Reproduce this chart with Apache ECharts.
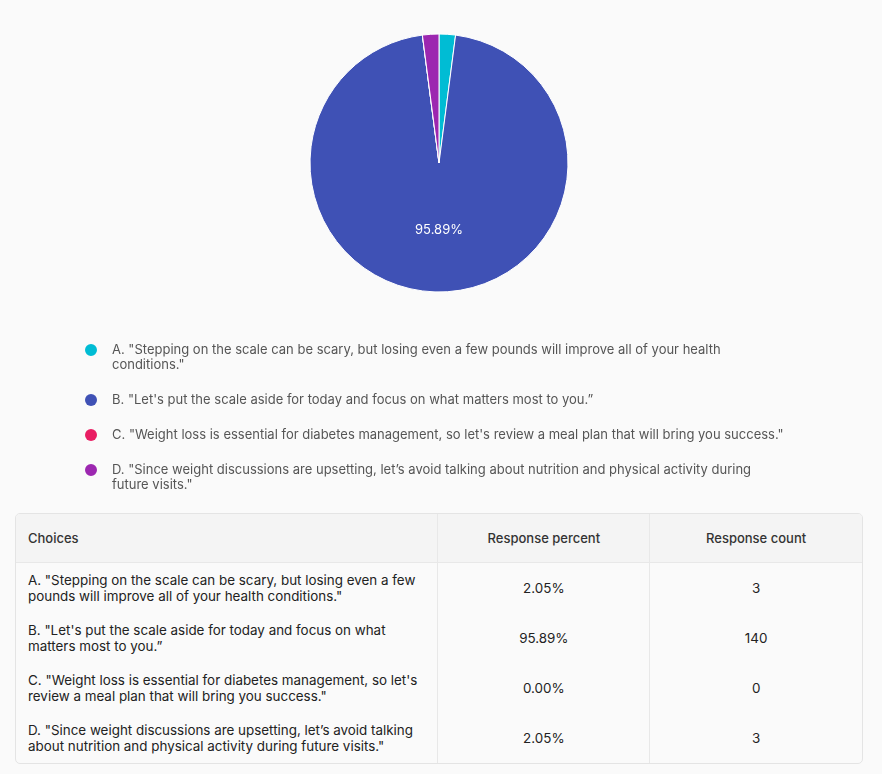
<!DOCTYPE html>
<html>
<head>
<meta charset="utf-8">
<script src="https://cdn.jsdelivr.net/npm/echarts@6/dist/echarts.min.js"></script>
<style>
  html, body { margin: 0; padding: 0; background: #fafafa; }
  #chart { width: 882px; height: 505px; }
  table {
    position: absolute; left: 15px; top: 513px; width: 848px;
    border-collapse: separate; border-spacing: 0;
    border: 1px solid #e4e4e4; border-radius: 5px; overflow: hidden;
    font-family: Inter, "Noto Sans", sans-serif; color: #222;
  }
  th, td { border-right: 1px solid #e8e8e8; padding: 0 12px; }
  th:last-child, td:last-child { border-right: none; }
  th { background: #f4f4f4; height: 48px; font-size: 13px; font-weight: 500; color: #333;
       border-bottom: 1px solid #e8e8e8; text-align: center; }
  th:first-child { text-align: left; }
  td { height: 50px; font-size: 13.4px; line-height: 16px; text-align: center; }
  td:first-child { text-align: left; padding-right: 4px; }
</style>
</head>
<body>
<div id="chart"></div>
<table id="tbl">
  <colgroup><col style="width:423px"><col style="width:212px"><col style="width:212px"></colgroup>
  <thead><tr><th>Choices</th><th>Response percent</th><th>Response count</th></tr></thead>
  <tbody></tbody>
</table>
<script>
// 选项文本与计数
var choices = [
  'A. "Stepping on the scale can be scary, but losing even a few pounds will improve all of your health conditions."',
  'B. "Let\'s put the scale aside for today and focus on what matters most to you.\u201D',
  'C. "Weight loss is essential for diabetes management, so let\'s review a meal plan that will bring you success."',
  'D. "Since weight discussions are upsetting, let\u2019s avoid talking about nutrition and physical activity during future visits."'
];
var counts = [3, 140, 0, 3];
var colors = ['#00bcd4', '#3f51b5', '#e91e63', '#9c27b0'];
var legendLines = [2, 1, 1, 2]; // 图例每项的行数

var total = counts.reduce(function (a, b) { return a + b; }, 0);

// 表格
var tbody = document.querySelector('#tbl tbody');
choices.forEach(function (c, i) {
  var tr = document.createElement('tr');
  var pct = total ? (counts[i] / total * 100).toFixed(2) : '0.00';
  tr.innerHTML = '<td></td><td>' + pct + '%</td><td>' + counts[i] + '</td>';
  tr.firstChild.textContent = c;
  tbody.appendChild(tr);
});

// 圆点放在图标框顶部，两行文字时对齐第一行
var topDot = 'path://M0,6A6,6,0,1,1,12,6A6,6,0,1,1,0,6Z M0,27L12,27';

// 每个选项一个图例，逐项往下排
var legends = [];
var y = 342.5;
choices.forEach(function (c, i) {
  var two = legendLines[i] > 1;
  legends.push({
    orient: 'vertical',
    left: 85,
    top: y,
    padding: 0,
    icon: two ? topDot : 'circle',
    itemWidth: 12,
    itemHeight: two ? 27 : 12,
    itemStyle: { borderWidth: 0 },
    textStyle: {
      fontFamily: 'Inter',
      fontSize: 13,
      color: '#555',
      lineHeight: 15,
      width: 680,
      overflow: 'break',
      padding: [0, 0, 0, 10]
    },
    data: [c]
  });
  y += legendLines[i] * 15 + 20;
});

var myChart = echarts.init(document.getElementById('chart'));
var option = {
  color: colors,
  animation: false,
  legend: legends,
  series: [
    {
      type: 'pie',
      center: [439, 163],
      radius: 129,
      startAngle: 90,
      percentPrecision: 2,
      itemStyle: { borderColor: '#fff', borderWidth: 1 },
      label: {
        show: true,
        position: 'inside',
        color: '#fff',
        fontFamily: 'Inter',
        fontSize: 13,
        formatter: function (p) {
          return p.percent >= 5 ? p.percent.toFixed(2) + '%' : '';
        }
      },
      labelLine: { show: false },
      emphasis: { scale: false },
      data: choices.map(function (c, i) {
        return { name: c, value: counts[i] };
      })
    }
  ]
};
myChart.setOption(option);
</script>
</body>
</html>
